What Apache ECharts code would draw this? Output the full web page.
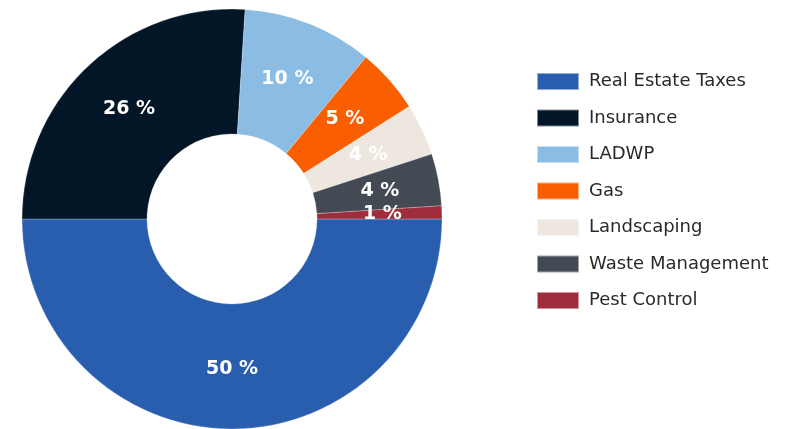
<!DOCTYPE html>
<html>
<head>
<meta charset="utf-8">
<script src="https://cdn.jsdelivr.net/npm/echarts@6/dist/echarts.min.js"></script>
<style>
  html, body { margin: 0; padding: 0; background: #fff; }
  #chart { width: 795px; height: 429px; }
</style>
</head>
<body>
<div id="chart"></div>
<script>
  // expense categories and their share (%)
  const categories = ['Real Estate Taxes', 'Insurance', 'LADWP', 'Gas', 'Landscaping', 'Waste Management', 'Pest Control'];
  const shares = [50, 26, 10, 5, 4, 4, 1];
  const colors = ['#285EAD', '#021627', '#8BBCE4', '#F95E00', '#EDE7DF', '#434A53', '#A02D3C'];

  var chartDom = document.getElementById('chart');
  var myChart = echarts.init(chartDom);

  var option = {
    color: colors,
    legend: {
      orient: 'vertical',
      left: 531,
      top: 67,
      itemWidth: 42,
      itemHeight: 17,
      itemGap: 17.5,
      icon: 'rect',
      textStyle: {
        fontFamily: 'DejaVu Sans',
        fontSize: 18,
        color: '#2a2a2a',
        padding: [0, 0, 0, 5]
      },
      data: categories
    },
    series: [
      {
        type: 'pie',
        center: [232, 219],
        radius: [85, 210],
        startAngle: 0,
        clockwise: true,
        avoidLabelOverlap: false,
        silent: true,
        itemStyle: {
          borderColor: 'rgba(255,255,255,0.5)',
          borderWidth: 0.5
        },
        label: {
          show: true,
          position: 'inside',
          formatter: '{c} %',
          color: '#fff',
          fontFamily: 'DejaVu Sans',
          fontWeight: 'bold',
          fontSize: 19
        },
        labelLine: { show: false },
        data: categories.map(function (name, i) {
          return { name: name, value: shares[i] };
        })
      }
    ]
  };

  myChart.setOption(option);
</script>
</body>
</html>
